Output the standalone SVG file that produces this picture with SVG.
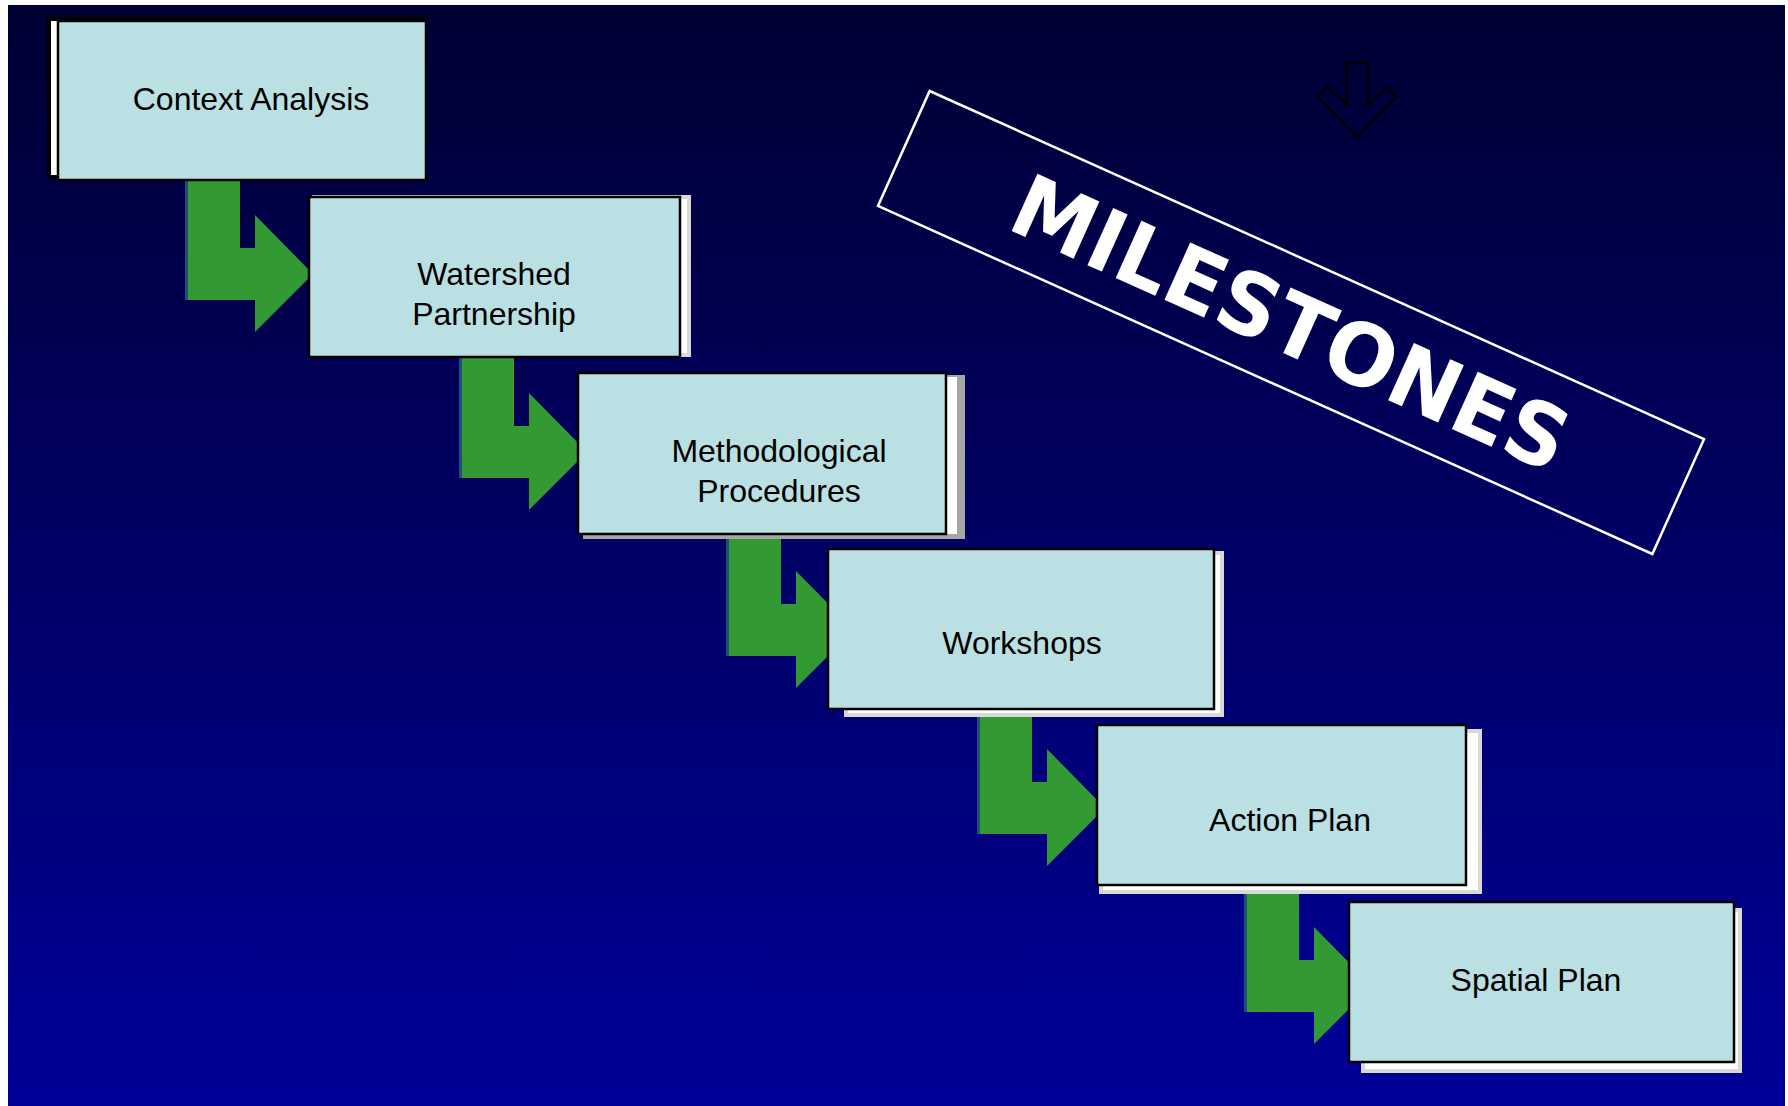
<svg xmlns="http://www.w3.org/2000/svg" width="1788" height="1106" viewBox="0 0 1788 1106">
  <defs>
    <linearGradient id="bg" x1="0" y1="0" x2="0" y2="1">
      <stop offset="0" stop-color="#000033"/>
      <stop offset="1" stop-color="#000099"/>
    </linearGradient>
    <path id="bend" d="M0,-72 H55 V0 H70 V-33 L128,26 L70,84 V52 H0 Z"/>
  </defs>
  <style>
    .box { fill: #bae0e3; stroke: #000; stroke-width: 2.5; }
    .sh { fill: #fff; stroke: #d9d9d9; stroke-width: 4; }
    .sh1 { fill: #fff; stroke: #000; stroke-width: 4; }
    .lbl { font-family: "Liberation Sans", Arial, sans-serif; font-size: 32px; fill: #000; text-anchor: middle; }
    .arrow { fill: #339933; }
    .edge { fill: #1f4e79; }
    .title { font-family: "DejaVu Sans", "Liberation Sans", sans-serif; font-weight: bold; font-size: 86px; fill: #fff; text-anchor: middle; }
  </style>

  <rect x="0" y="0" width="1788" height="1106" fill="#fff"/>
  <rect x="8" y="5" width="1777" height="1101" fill="url(#bg)"/>

  <g id="banner">
    <g transform="translate(1291,322.5) rotate(24.2)">
      <rect x="-424.5" y="-63" width="849" height="126" fill="none" stroke="#fff" stroke-width="2.5"/>
      <text class="title" x="0" y="31" textLength="600" lengthAdjust="spacingAndGlyphs">MILESTONES</text>
    </g>
  </g>

  <g id="down-arrow">
    <path d="M1347,63 H1368 V105 L1387,87 L1396,97 L1357,137 L1318,97 L1327,87 L1347,105 Z" fill="none" stroke="#000" stroke-width="2.5" stroke-linejoin="miter"/>
  </g>

  <g id="connectors">
    <g transform="translate(185,248)"><use href="#bend" class="arrow"/><rect class="edge" x="0" y="-72" width="3" height="124"/></g>
    <g transform="translate(459,426)"><use href="#bend" class="arrow"/><rect class="edge" x="0" y="-72" width="3" height="124"/></g>
    <g transform="translate(726,604)"><use href="#bend" class="arrow"/><rect class="edge" x="0" y="-72" width="3" height="124"/></g>
    <g transform="translate(977,782)"><use href="#bend" class="arrow"/><rect class="edge" x="0" y="-72" width="3" height="124"/></g>
    <g transform="translate(1244,960)"><use href="#bend" class="arrow"/><rect class="edge" x="0" y="-72" width="3" height="124"/></g>
  </g>

  <g id="node-context-analysis">
    <rect class="sh1" x="49" y="19" width="374" height="158"/>
    <rect class="box" x="58" y="21" width="368" height="159"/>
    <text class="lbl" x="251" y="110">Context Analysis</text>
  </g>

  <g id="node-watershed-partnership">
    <rect class="sh" x="314" y="197" width="375" height="158"/>
    <rect class="box" x="309" y="197" width="371" height="160"/>
    <text class="lbl" x="494" y="285">Watershed</text>
    <text class="lbl" x="494" y="325">Partnership</text>
  </g>

  <g id="node-methodological-procedures">
    <rect x="583" y="375" width="382" height="164" fill="#a6a6a6"/>
    <rect x="585" y="377" width="372" height="157" fill="#fff"/>
    <rect class="box" x="578" y="373" width="368" height="161"/>
    <text class="lbl" x="779" y="462">Methodological</text>
    <text class="lbl" x="779" y="502">Procedures</text>
  </g>

  <g id="node-workshops">
    <rect class="sh" x="846" y="553" width="376" height="162"/>
    <rect class="box" x="828" y="549" width="386" height="160"/>
    <text class="lbl" x="1022" y="654">Workshops</text>
  </g>

  <g id="node-action-plan">
    <rect class="sh" x="1101" y="731" width="379" height="161"/>
    <rect class="box" x="1097" y="725" width="369" height="160"/>
    <text class="lbl" x="1290" y="831">Action Plan</text>
  </g>

  <g id="node-spatial-plan">
    <rect class="sh" x="1363" y="910" width="377" height="161"/>
    <rect class="box" x="1349" y="902" width="385" height="160"/>
    <text class="lbl" x="1536" y="991">Spatial Plan</text>
  </g>
</svg>
